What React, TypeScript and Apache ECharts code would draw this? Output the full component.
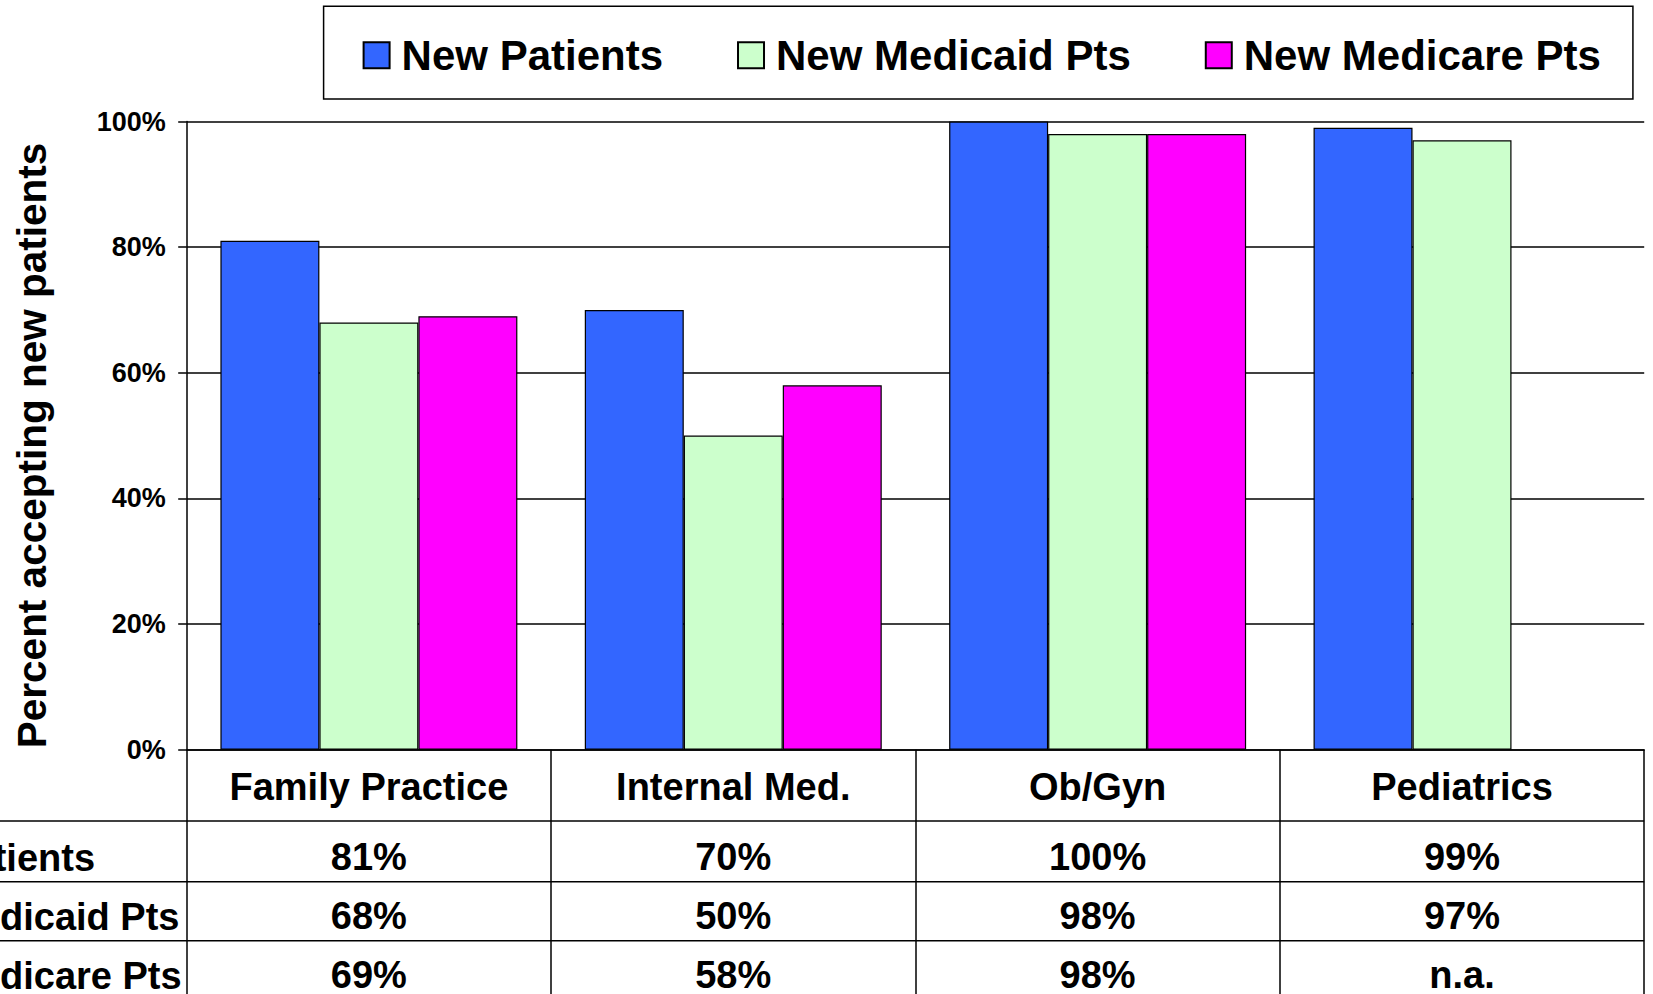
import React, { useEffect, useRef } from "react";
import * as echarts from "echarts";

const categories = ["Family Practice", "Internal Med.", "Ob/Gyn", "Pediatrics"];
const seriesNames = ["New Patients", "New Medicaid Pts", "New Medicare Pts"];
const newPatients: (number | null)[] = [81, 70, 100, 99];
const newMedicaid: (number | null)[] = [68, 50, 98, 97];
const newMedicare: (number | null)[] = [69, 58, 98, null];
const seriesColors = ["#3366FF", "#CCFFCC", "#FF00FF"];
const yAxisTitle = "Percent accepting new patients";

const FONT = "'Liberation Sans', Arial, sans-serif";
const W = 1653;
const H = 994;

const fmt = (v: number | null) => (v == null ? "n.a." : `${v}%`);

export default function App() {
  const ref = useRef<HTMLDivElement>(null);

  useEffect(() => {
    if (!ref.current) return;
    const chart = echarts.init(ref.current, null, { renderer: "svg" });

    const gridLeft = 186.7;
    const gridRight = 8.8;
    const gridTop = 121.5;
    const axisY = 750.7;
    const rowLineYs = [821, 881.7, 940.7];
    const rowCenters = [858, 917, 976];
    const rowArrays = [newPatients, newMedicaid, newMedicare];

    const textBase = { color: "#000", fontFamily: FONT, fontWeight: "bold" as const };

    const valueAxes = rowArrays.map((arr, k) => ({
      type: "category" as const,
      gridIndex: 0,
      position: "bottom" as const,
      data: categories,
      axisLine: { show: false },
      axisTick: { show: false },
      splitLine: { show: false },
      axisLabel: {
        ...textBase,
        fontSize: 38,
        interval: 0,
        margin: rowCenters[k] - axisY,
        verticalAlign: "middle" as const,
        formatter: (_v: string, i: number) => fmt(arr[i]),
      },
    }));

    const dataSets = [newPatients, newMedicaid, newMedicare];

    chart.setOption({
      animation: false,
      backgroundColor: "#fff",
      grid: {
        left: gridLeft,
        right: gridRight,
        top: gridTop,
        bottom: H - axisY,
        containLabel: false,
      },
      legend: {
        data: seriesNames,
        left: 323.6,
        top: 6.3,
        orient: "horizontal",
        padding: [28, 32, 22.7, 39],
        borderColor: "#000",
        borderWidth: 1.5,
        itemWidth: 26,
        itemHeight: 26,
        itemGap: 74,
        icon: "rect",
        textStyle: { ...textBase, fontSize: 42, padding: [0, 0, 0, 7] },
      },
      xAxis: [
        {
          type: "category",
          gridIndex: 0,
          position: "bottom",
          data: categories,
          axisLine: { show: true, lineStyle: { color: "#000", width: 1.5 } },
          axisTick: {
            show: true,
            interval: 0,
            alignWithLabel: false,
            length: H - axisY + 5,
            lineStyle: { color: "#000", width: 1.5 },
          },
          splitLine: { show: false },
          axisLabel: {
            ...textBase,
            fontSize: 38,
            interval: 0,
            margin: 787.5 - axisY,
            verticalAlign: "middle",
          },
        },
        ...valueAxes,
      ],
      yAxis: {
        type: "value",
        min: 0,
        max: 100,
        interval: 20,
        axisLine: { show: true, lineStyle: { color: "#000", width: 1.5 } },
        axisTick: { show: true, length: 8.5, lineStyle: { color: "#000", width: 1.5 } },
        splitLine: { show: true, lineStyle: { color: "#000", width: 1.5 } },
        axisLabel: {
          ...textBase,
          fontSize: 27,
          margin: 21,
          formatter: "{value}%",
        },
      },
      series: seriesNames.map((name, i) => ({
        name,
        type: "bar",
        xAxisIndex: 0,
        data: dataSets[i],
        barGap: "0%",
        barCategoryGap: "18.5%",
        itemStyle: { color: seriesColors[i], borderColor: "#000", borderWidth: 1.2 },
      })),
      graphic: [
        {
          type: "text",
          x: 31.7,
          y: 445.5,
          rotation: Math.PI / 2,
          style: {
            text: yAxisTitle,
            fill: "#000",
            font: `bold 40.5px ${FONT}`,
            textAlign: "center",
            textVerticalAlign: "middle",
            align: "center",
            verticalAlign: "middle",
          },
        },
        ...rowLineYs.map((y) => ({
          type: "line",
          shape: { x1: 0, y1: y, x2: W - gridRight, y2: y },
          style: { stroke: "#000", lineWidth: 1.5 },
        })),
        ...seriesNames.map((name, k) => ({
          type: "text",
          x: -141.5,
          y: rowCenters[k],
          style: {
            text: name,
            fill: "#000",
            font: `bold 38px ${FONT}`,
            textAlign: "left",
            textVerticalAlign: "middle",
            align: "left",
            verticalAlign: "middle",
          },
        })),
      ],
    });

    return () => chart.dispose();
  }, []);

  return (
    <div
      ref={ref}
      style={{ position: "absolute", left: 0, top: 0, width: W, height: H, background: "#fff" }}
    />
  );
}
